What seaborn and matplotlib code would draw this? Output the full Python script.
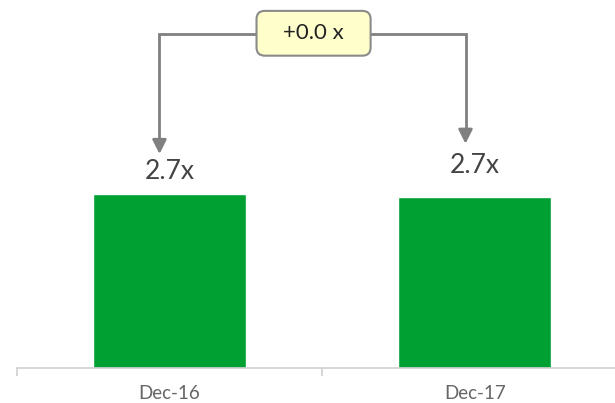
import matplotlib
matplotlib.use("Agg")
import matplotlib.pyplot as plt
from matplotlib.patches import FancyBboxPatch
import seaborn as sns
import pandas as pd

periods = ["Dec-16", "Dec-17"]
ratios = [2.72, 2.67]
value_labels = ["2.7x", "2.7x"]
change_label = "+0.0 x"

df = pd.DataFrame({"period": periods, "ratio": ratios})

sns.set_theme(style="white")
plt.rcParams["font.family"] = ["Lato", "DejaVu Sans"]

fig = plt.figure(figsize=(6.15, 4.03), dpi=100)
ax = fig.add_axes([17 / 615, 35 / 403, 598 / 615, 368 / 403])

sns.barplot(data=df, x="period", y="ratio", color="#00A033", width=0.5,
            saturation=1, ax=ax)

ax.set_xlabel("")
ax.set_ylabel("")
ax.set_yticks([])
for s in ["top", "right", "left"]:
    ax.spines[s].set_visible(False)
ax.spines["bottom"].set_color("#d0d0d0")
ax.spines["bottom"].set_linewidth(1.2)

ax.set_xticks([-0.5, 0.5, 1.5], minor=True)
ax.tick_params(axis="x", which="minor", length=6, color="#d0d0d0", width=1.2,
               direction="out", bottom=True)
ax.tick_params(axis="x", which="major", length=0, pad=12)
for t in ax.get_xticklabels():
    t.set_fontsize(13.5)
    t.set_color("#666666")
ax.set_xlim(-0.5, 1.46)
ax.set_ylim(0, 5.75)

# value labels
offsets = [22, 32]
for i, (v, lab) in enumerate(zip(ratios, value_labels)):
    ax.annotate(lab, (i, v), xytext=(0, offsets[i]), textcoords="offset pixels",
                ha="center", va="center", fontsize=19, color="#444444")

# bracket with arrows
bracket_y = 5.22
tips = [3.3, 3.46]
xs = [0 - 0.033, 1 - 0.03]
arrow_col = "#808080"
ax.plot([xs[0], xs[0], xs[1], xs[1]], [tips[0] + 0.15, bracket_y, bracket_y, tips[1] + 0.15],
        color=arrow_col, lw=2, solid_joinstyle="miter", zorder=2)
for x, t in zip(xs, tips):
    ax.annotate("", xy=(x, t), xytext=(x, t + 0.2),
                arrowprops=dict(arrowstyle="-|>,head_length=0.7,head_width=0.35",
                                color=arrow_col, lw=2))

# change box
bx, by = 0.472, 5.23
bw, bh = 0.374, 0.70
box = FancyBboxPatch((bx - bw / 2, by - bh / 2), bw, bh,
                     boxstyle="round,pad=0,rounding_size=0.027",
                     mutation_aspect=305 / 64, fc="#FFFFCC", ec="#8a8a8a",
                     lw=1.5, zorder=3)
ax.add_patch(box)
ax.text(bx, by, change_label, ha="center", va="center",
        fontsize=16, color="#222222", zorder=4)

fig.savefig("out.png", dpi=100)
